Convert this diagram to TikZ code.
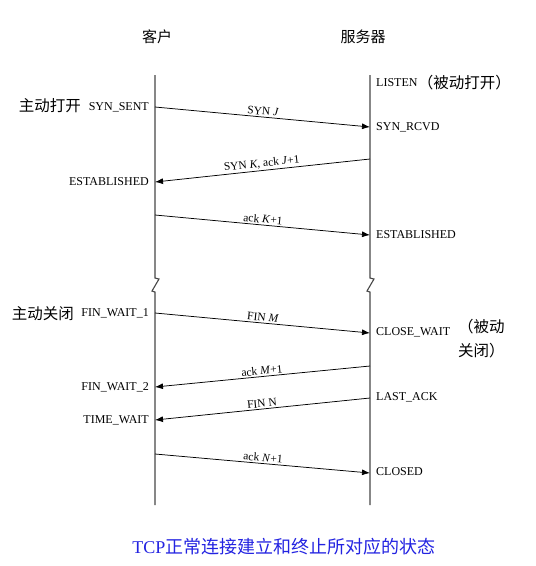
\documentclass[tikz,border=0pt]{standalone}
\usepackage{fontspec}
\setmainfont{Liberation Serif}
\newfontfamily\cjk{Noto Sans CJK SC}
\usetikzlibrary{arrows.meta}
\definecolor{capblue}{RGB}{35,35,225}
\definecolor{lifegray}{RGB}{70,70,70}
\tikzset{
  x=1pt, y=1pt,
  lifeline/.style={draw=lifegray, line width=1.1pt},
  msg/.style={draw=black, line width=0.75pt, -{Latex[length=8pt,width=6pt]}},
  msglabel/.style={font=\fontsize{11.5}{13}\selectfont, sloped, above, inner sep=1.5pt},
  lstate/.style={anchor=east, font=\fontsize{12}{14}\selectfont, inner sep=0pt},
  rstate/.style={anchor=west, font=\fontsize{12}{14}\selectfont, inner sep=0pt},
  cjklabel/.style={font=\cjk\fontsize{15.5}{18}\selectfont, inner sep=0pt},
}
\begin{document}
\begin{tikzpicture}
\useasboundingbox (0,0) rectangle (536,-566);
% headers
\node[cjklabel, font=\cjk\fontsize{15}{18}\selectfont] (hc) at (157,-37) {客户};
\node[cjklabel, font=\cjk\fontsize{15}{18}\selectfont] (hs) at (363,-37) {服务器};
% lifelines
\coordinate (ctop) at (155,-75);
\coordinate (cbot) at (155,-505);
\coordinate (stop) at (370,-75);
\coordinate (sbot) at (370,-505);
\draw[lifeline] (ctop) -- (155,-278) -- (159,-279) -- (152,-291) -- (155,-292) -- (cbot);
\draw[lifeline] (stop) -- (370,-278) -- (374,-279) -- (367,-291) -- (370,-292) -- (sbot);
% message endpoints
\coordinate (c1) at (155,-107); \coordinate (s1) at (370,-127);
\coordinate (s2) at (370,-159); \coordinate (c2) at (155,-182);
\coordinate (c3) at (155,-215); \coordinate (s3) at (370,-235);
\coordinate (c4) at (155,-313); \coordinate (s4) at (370,-333);
\coordinate (s5) at (370,-366); \coordinate (c5) at (155,-387);
\coordinate (s6) at (370,-398); \coordinate (c6) at (155,-420);
\coordinate (c7) at (155,-454); \coordinate (s7) at (370,-473);
% messages
\draw[msg] (c1) -- node[msglabel] {SYN \textit{J}} (s1);
\draw[msg] (s2) -- node[msglabel] {SYN \textit{K}, ack \textit{J}+1} (c2);
\draw[msg] (c3) -- node[msglabel] {ack \textit{K}+1} (s3);
\draw[msg] (c4) -- node[msglabel] {FIN \textit{M}} (s4);
\draw[msg] (s5) -- node[msglabel] {ack \textit{M}+1} (c5);
\draw[msg] (s6) -- node[msglabel] {FIN N} (c6);
\draw[msg] (c7) -- node[msglabel] {ack \textit{N}+1} (s7);
% client states
\node[lstate] (synsent) at (149,-107) {SYN\_SENT};
\node[lstate] (estc) at (149,-182) {ESTABLISHED};
\node[lstate] (fw1) at (149,-313) {FIN\_WAIT\_1};
\node[lstate] (fw2) at (149,-387) {FIN\_WAIT\_2};
\node[lstate] (tw) at (149,-420) {TIME\_WAIT};
\node[cjklabel, anchor=east] (ao) at (81,-106) {主动打开};
\node[cjklabel, anchor=east] (ac) at (74,-314) {主动关闭};
% server states
\node[rstate] (listen) at (376,-83) {LISTEN};
\node[cjklabel, anchor=west] (po) at ([xshift=0pt]listen.east) {（被动打开）};
\node[rstate] (synrcvd) at (376,-127) {SYN\_RCVD};
\node[rstate] (ests) at (376,-235) {ESTABLISHED};
\node[rstate] (cw) at (376,-332) {CLOSE\_WAIT};
\node[cjklabel, anchor=north west, align=left, font=\cjk\fontsize{15.5}{24}\selectfont] (pc) at (458,-319) {（被动\\关闭）};
\node[rstate] (la) at (376,-397) {LAST\_ACK};
\node[rstate] (closed) at (376,-472) {CLOSED};
% caption
\node[text=capblue, font=\fontsize{18}{21}\selectfont, inner sep=0pt] (cap) at (284,-547) {TCP{\cjk 正常连接建立和终止所对应的状态}};
\end{tikzpicture}
\end{document}
